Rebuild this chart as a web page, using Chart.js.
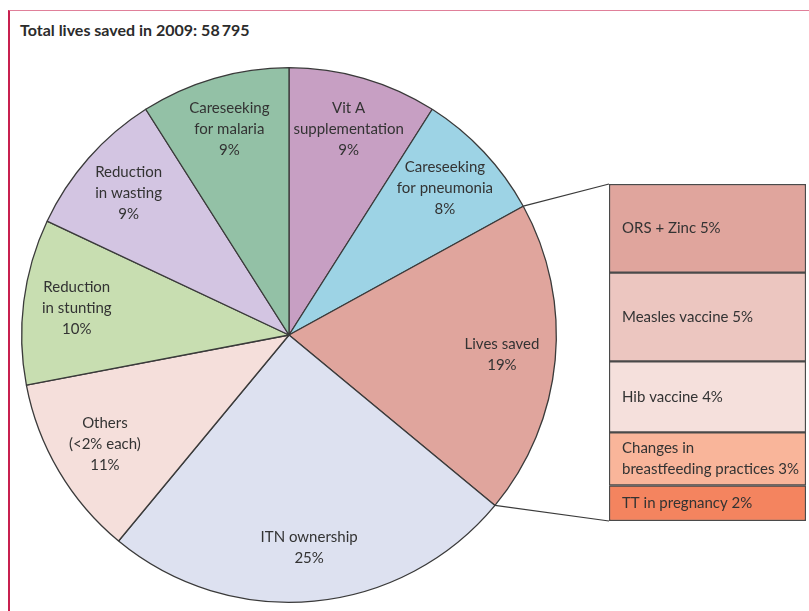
<!DOCTYPE html>
<html>
<head>
<meta charset="utf-8">
<script src="https://cdn.jsdelivr.net/npm/chart.js@4"></script>
<style>
    body { margin: 0; background: #fff; }
    #wrap { position: relative; width: 809px; height: 611px; overflow: hidden; }
    #frame { position: absolute; left: 8px; top: 10px; right: -2px; bottom: -2px;
        border-top: 1px solid #e0809a; border-left: 2px solid #c8204f; }
    #title { position: absolute; left: 20px; top: 20px; font: bold 16px Lato, sans-serif; color: #2b2b2b; }
    canvas { position: absolute; left: 0; top: 0; }
</style>
</head>
<body>
<div id="wrap">
    <div id="frame"></div>
    <div id="title">Total lives saved in 2009: 58&#8201;795</div>
    <canvas id="pieChart" width="809" height="611"></canvas>
    <canvas id="barChart" width="809" height="611"></canvas>
</div>
<script>
// pie: clockwise from 12 o'clock
const sliceLabels = [
    ['Vit A', 'supplementation'],
    ['Careseeking', 'for pneumonia'],
    ['Lives saved'],
    ['ITN ownership'],
    ['Others', '(<2% each)'],
    ['Reduction', 'in stunting'],
    ['Reduction', 'in wasting'],
    ['Careseeking', 'for malaria'],
];
const sliceValues = [9, 8, 19, 25, 11, 10, 9, 9];
const sliceColors = ['#c79fc3', '#9dd3e5', '#e0a59d', '#dde1f0', '#f5dfdb', '#c8deb1', '#d3c5e2', '#93c1a6'];

// breakdown of the "Lives saved" slice, top to bottom
const detailLabels = [['ORS + Zinc'], ['Measles vaccine'], ['Hib vaccine'], ['Changes in', 'breastfeeding practices'], ['TT in pregnancy']];
const detailValues = [5, 5, 4, 3, 2];
const detailColors = ['#e0a59d', '#ecc6c0', '#f5e0dc', '#f9b59a', '#f4845f'];

const textColor = '#333';
const lineColor = '#3a3a3a';
const fontFamily = 'Lato, sans-serif';

const pieLabelPlugin = {
    id: 'pieLabels',
    afterDatasetsDraw: function (chart) {
        const ctx = chart.ctx;
        const arcs = chart.getDatasetMeta(0).data;
        ctx.save();
        ctx.font = '15px ' + fontFamily;
        ctx.fillStyle = textColor;
        ctx.textAlign = 'center';
        ctx.textBaseline = 'middle';
        arcs.forEach(function (arc, i) {
            const mid = (arc.startAngle + arc.endAngle) / 2;
            const r = arc.outerRadius * 0.8;
            const x = arc.x + Math.cos(mid) * r;
            const y = arc.y + Math.sin(mid) * r;
            const lines = sliceLabels[i].concat([sliceValues[i] + '%']);
            const lh = 21;
            lines.forEach(function (line, j) {
                ctx.fillText(line, x, y + (j - (lines.length - 1) / 2) * lh);
            });
        });
        ctx.restore();
    }
};

const pieChart = new Chart(document.getElementById('pieChart').getContext('2d'), {
    type: 'pie',
    data: {
        labels: sliceLabels.map(function (l) { return l.join(' '); }),
        datasets: [{
            data: sliceValues,
            backgroundColor: sliceColors,
            borderColor: lineColor,
            borderWidth: 1.3,
        }]
    },
    options: {
        responsive: false,
        animation: false,
        layout: { padding: { left: 21, right: 252, top: 67, bottom: 8 } },
        plugins: { legend: { display: false }, tooltip: { enabled: false } },
    },
    plugins: [pieLabelPlugin]
});

const barPlugin = {
    id: 'barExtras',
    afterDatasetsDraw: function (chart) {
        const ctx = chart.ctx;
        ctx.save();

        // labels in each box
        ctx.font = '15px ' + fontFamily;
        ctx.fillStyle = textColor;
        ctx.textAlign = 'left';
        ctx.textBaseline = 'middle';
        chart.data.datasets.forEach(function (ds, i) {
            const bar = chart.getDatasetMeta(i).data[0];
            const left = bar.x - bar.width / 2;
            const cy = (bar.y + bar.base) / 2;
            const lines = detailLabels[i].slice();
            lines[lines.length - 1] += ' ' + detailValues[i] + '%';
            const lh = 21;
            lines.forEach(function (line, j) {
                ctx.fillText(line, left + 13, cy + (j - (lines.length - 1) / 2) * lh);
            });
        });

        // lines from the "Lives saved" slice to the box
        const arc = pieChart.getDatasetMeta(0).data[2];
        const first = chart.getDatasetMeta(0).data[0];
        const last = chart.getDatasetMeta(chart.data.datasets.length - 1).data[0];
        const left = first.x - first.width / 2;
        ctx.strokeStyle = lineColor;
        ctx.lineWidth = 1.2;
        ctx.beginPath();
        ctx.moveTo(arc.x + Math.cos(arc.startAngle) * arc.outerRadius, arc.y + Math.sin(arc.startAngle) * arc.outerRadius);
        ctx.lineTo(left, Math.min(first.y, first.base));
        ctx.moveTo(arc.x + Math.cos(arc.endAngle) * arc.outerRadius, arc.y + Math.sin(arc.endAngle) * arc.outerRadius);
        ctx.lineTo(left, Math.max(last.y, last.base));
        ctx.stroke();
        ctx.restore();
    }
};

new Chart(document.getElementById('barChart').getContext('2d'), {
    type: 'bar',
    data: {
        labels: [''],
        datasets: detailValues.map(function (v, i) {
            return {
                label: detailLabels[i].join(' '),
                data: [v],
                backgroundColor: detailColors[i],
                borderColor: '#4a4a4a',
                borderWidth: 1.5,
                borderSkipped: false,
                barPercentage: 1,
                categoryPercentage: 1,
            };
        })
    },
    options: {
        responsive: false,
        animation: false,
        layout: { padding: { left: 609, right: 3, top: 184, bottom: 90 } },
        scales: {
            x: { display: false, stacked: true },
            y: { display: false, stacked: true, reverse: true, min: 0, max: 19 }
        },
        plugins: { legend: { display: false }, tooltip: { enabled: false } },
    },
    plugins: [barPlugin]
});
</script>
</body>
</html>
